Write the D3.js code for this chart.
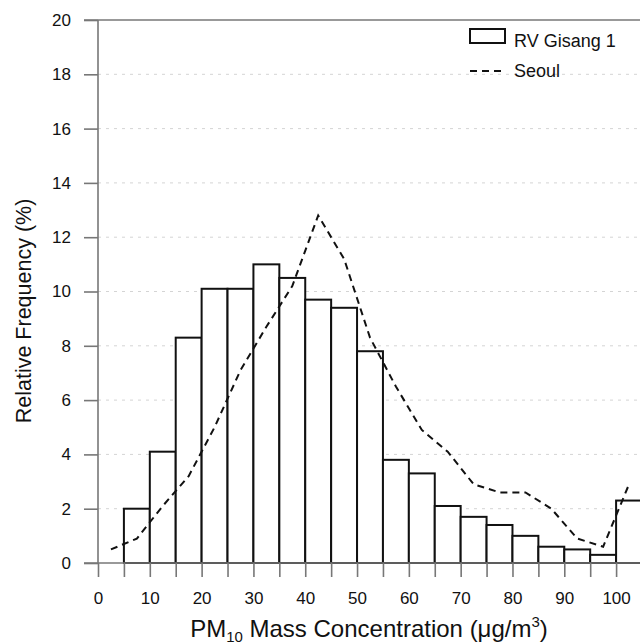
<!DOCTYPE html>
<html>
<head>
<meta charset="utf-8">
<script src="https://cdn.jsdelivr.net/npm/d3@7"></script>
<style>
  body { margin: 0; background: #fff; }
  svg { display: block; font-family: "Liberation Sans", Arial, sans-serif; }
</style>
</head>
<body>
<div id="chart"></div>
<script>
// Histogram bins (lower edge, width 5) for RV Gisang 1
const binStarts = [5, 10, 15, 20, 25, 30, 35, 40, 45, 50, 55, 60, 65, 70, 75, 80, 85, 90, 95, 100];
const gisangFreq = [2.0, 4.1, 8.3, 10.1, 10.1, 11.0, 10.5, 9.7, 9.4, 7.8, 3.8, 3.3, 2.1, 1.7, 1.4, 1.0, 0.6, 0.5, 0.3, 2.3];

// Seoul distribution at bin centres
const seoulX = [2.5, 7.5, 12.5, 17.5, 22.5, 27.5, 32.5, 37.5, 42.5, 47.5, 52.5, 57.5, 62.5, 67.5, 72.5, 77.5, 82.5, 87.5, 92.5, 97.5, 102.5];
const seoulFreq = [0.5, 0.9, 2.1, 3.2, 5.0, 7.1, 8.7, 10.2, 12.8, 11.2, 8.3, 6.5, 4.9, 4.1, 2.9, 2.6, 2.6, 2.0, 0.9, 0.6, 2.9];

const xTicks = [0, 10, 20, 30, 40, 50, 60, 70, 80, 90, 100];
const yTicks = [0, 2, 4, 6, 8, 10, 12, 14, 16, 18, 20];
const binWidth = 5;

const width = 640, height = 644;
const margin = {top: 20, left: 98, bottom: 81};

const svg = d3.select('#chart').append('svg')
  .attr('width', width)
  .attr('height', height);

// x extends a little past the window edge (the picture is cropped there)
const x = d3.scaleLinear().domain([0, 105]).range([margin.left, 642]);
const y = d3.scaleLinear().domain([0, 20]).range([height - margin.bottom, margin.top]);

const axisColor = '#777';

// dotted grid
svg.append('g')
  .selectAll('line')
  .data(yTicks.filter(d => d > 0 && d < 20))
  .enter().append('line')
  .attr('x1', x(0)).attr('x2', width)
  .attr('y1', d => y(d)).attr('y2', d => y(d))
  .style('stroke', '#d4d4d4')
  .style('stroke-width', 1)
  .style('stroke-dasharray', '3,5');

// bars
svg.append('g')
  .selectAll('rect')
  .data(binStarts)
  .enter().append('rect')
  .attr('x', d => x(d))
  .attr('y', (d, i) => y(gisangFreq[i]))
  .attr('width', x(binWidth) - x(0))
  .attr('height', (d, i) => y(0) - y(gisangFreq[i]))
  .style('fill', '#fff')
  .style('stroke', '#111')
  .style('stroke-width', 2);

// Seoul dashed line
const line = d3.line()
  .x((d, i) => x(seoulX[i]))
  .y(d => y(d));

svg.append('path')
  .datum(seoulFreq)
  .attr('d', line)
  .style('fill', 'none')
  .style('stroke', '#111')
  .style('stroke-width', 2)
  .style('stroke-dasharray', '7,5');

// y axis
const yAxis = svg.append('g')
  .attr('transform', 'translate(' + x(0) + ',0)')
  .call(d3.axisLeft(y).tickValues(yTicks).tickSize(14).tickPadding(13));
yAxis.select('.domain').remove();
yAxis.append('line')
  .attr('x1', 0).attr('x2', 0)
  .attr('y1', y(0)).attr('y2', y(20));
yAxis.selectAll('line').style('stroke', axisColor).style('stroke-width', 1.6);
yAxis.selectAll('text').style('font-size', '17px').style('fill', '#111')
  .style('font-family', '"Liberation Sans", Arial, sans-serif');

// x axis (ticks every 5, labels every 10)
const xAxis = svg.append('g')
  .attr('transform', 'translate(0,' + y(0) + ')')
  .call(d3.axisBottom(x).tickValues(d3.range(0, 105, 5)).tickSize(14)
    .tickFormat(d => xTicks.includes(d) ? d : ''));
xAxis.select('.domain').remove();
xAxis.append('line')
  .attr('x1', x(0) - 14).attr('x2', width)
  .attr('y1', 0).attr('y2', 0);
xAxis.selectAll('line').style('stroke', axisColor).style('stroke-width', 1.6);
xAxis.selectAll('text').style('font-size', '17px').style('fill', '#111')
  .attr('y', 29)
  .style('font-family', '"Liberation Sans", Arial, sans-serif');

// top frame line
svg.append('line')
  .attr('x1', x(0) - 14).attr('x2', width)
  .attr('y1', y(20)).attr('y2', y(20))
  .style('stroke', axisColor).style('stroke-width', 1.6);

// axis titles
const xTitle = svg.append('text')
  .attr('x', 369)
  .attr('y', 637)
  .attr('text-anchor', 'middle')
  .style('font-size', '24px')
  .style('fill', '#111');
xTitle.append('tspan').text('PM');
xTitle.append('tspan').attr('dy', 5).style('font-size', '15px').text('10');
xTitle.append('tspan').attr('dy', -5).text(' Mass Concentration (\u03bcg/m');
xTitle.append('tspan').attr('dy', -10).style('font-size', '15px').text('3');
xTitle.append('tspan').attr('dy', 10).text(')');

svg.append('text')
  .attr('transform', 'translate(31,' + 311 + ') rotate(-90)')
  .attr('text-anchor', 'middle')
  .style('font-size', '21.5px')
  .style('fill', '#111')
  .text('Relative Frequency (%)');

// legend
const legend = svg.append('g').attr('transform', 'translate(470,29)');
legend.append('rect')
  .attr('x', 0).attr('y', 0)
  .attr('width', 35).attr('height', 14)
  .style('fill', '#fff').style('stroke', '#111').style('stroke-width', 2);
legend.append('text')
  .attr('x', 44).attr('y', 18)
  .style('font-size', '18px').style('fill', '#111')
  .text('RV Gisang 1');
legend.append('line')
  .attr('x1', 0).attr('x2', 34)
  .attr('y1', 42).attr('y2', 42)
  .style('stroke', '#111').style('stroke-width', 2)
  .style('stroke-dasharray', '7,5');
legend.append('text')
  .attr('x', 44).attr('y', 48)
  .style('font-size', '18px').style('fill', '#111')
  .text('Seoul');
</script>
</body>
</html>
